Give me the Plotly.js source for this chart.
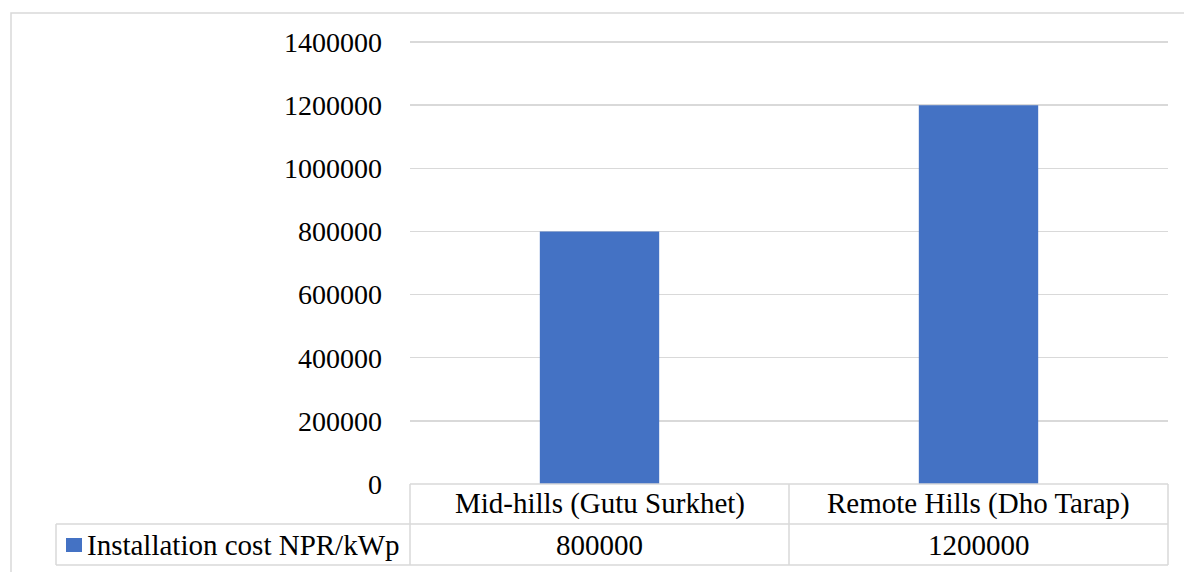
<!DOCTYPE html>
<html>
<head>
<meta charset="utf-8">
<script src="https://cdn.plot.ly/plotly-3.0.1.min.js"></script>
<style>html,body{margin:0;padding:0;background:#fff;}#chart{width:1184px;height:572px;}</style>
</head>
<body>
<div id="chart"></div>
<script>
const categories = ["Mid-hills (Gutu Surkhet)", "Remote Hills (Dho Tarap)"];
const installationCost = [800000, 1200000];
const seriesName = "Installation cost NPR/kWp";
const tickValues = [0, 200000, 400000, 600000, 800000, 1000000, 1200000, 1400000];

const FONT = "Liberation Serif, Times New Roman, serif";
const GRID = "#d9d9d9";
const BLUE = "#4472c4";

const W = 1184, H = 572;
const mL = 410, mR = 16, mT = 38, mB = 88;
const plotH = H - mT - mB;
const plotW = W - mL - mR;
const yMax = tickValues[tickValues.length - 1];
function yp(Y) { return (H - mB - Y) / plotH; }   // pixel-from-top -> paper y
function xp(X) { return (X - mL) / plotW; }       // pixel-from-left -> paper x

const shapes = [];
const annotations = [];
const line = {color: GRID, width: 1.5};
const tableFont = {family: FONT, size: 29, color: "#000"};

// outer chart border
shapes.push({type: "rect", xref: "paper", yref: "paper", x0: xp(11), x1: xp(1195), y0: yp(13), y1: yp(600), line: line});

// top gridline (Plotly drops the one on the range edge)
shapes.push({type: "line", xref: "paper", yref: "y", x0: 0, x1: 1, y0: yMax, y1: yMax, line: line, layer: "below"});

// data table lines
const yTop = yp(484), yMid = yp(524), yBot = yp(565);
shapes.push({type: "line", xref: "paper", yref: "paper", x0: 0, x1: 1, y0: yTop, y1: yTop, line: line});
shapes.push({type: "line", xref: "paper", yref: "paper", x0: xp(56), x1: 1, y0: yMid, y1: yMid, line: line});
shapes.push({type: "line", xref: "paper", yref: "paper", x0: xp(56), x1: 1, y0: yBot, y1: yBot, line: line});
shapes.push({type: "line", xref: "paper", yref: "paper", x0: xp(56), x1: xp(56), y0: yMid, y1: yBot, line: line});
for (let i = 0; i <= categories.length; i++) {
  const xf = i / categories.length;
  shapes.push({type: "line", xref: "paper", yref: "paper", x0: xf, x1: xf, y0: yTop, y1: yBot, line: line});
}
// legend key
shapes.push({type: "rect", xref: "paper", yref: "paper", x0: xp(66), x1: xp(82), y0: yp(552), y1: yp(538), fillcolor: BLUE, line: {width: 0}});
annotations.push({xref: "paper", yref: "paper", x: xp(85), y: yp(545), text: seriesName, showarrow: false, xanchor: "left", yanchor: "middle", font: tableFont});

categories.forEach((c, i) => {
  annotations.push({xref: "x", yref: "paper", x: c, y: yp(504), text: c, showarrow: false, yanchor: "middle", font: tableFont});
  annotations.push({xref: "x", yref: "paper", x: c, y: yp(545), text: String(installationCost[i]), showarrow: false, yanchor: "middle", font: tableFont});
});

const data = [{
  type: "bar",
  x: categories,
  y: installationCost,
  name: seriesName,
  marker: {color: BLUE},
  width: 0.315,
  hoverinfo: "x+y"
}];

// range extends a little above the top tick so the 1400000 line sits at y≈42 px
const layout = {
  width: W, height: H,
  margin: {l: mL, r: mR, t: mT, b: mB, pad: 0},
  paper_bgcolor: "#fff", plot_bgcolor: "#fff",
  showlegend: false,
  font: {family: FONT, size: 28, color: "#000"},
  xaxis: {showticklabels: false, showgrid: false, zeroline: false, showline: false, ticks: ""},
  yaxis: {range: [0, yMax * (446 / 442)], tickvals: tickValues, ticktext: tickValues.map(String), showgrid: true, gridcolor: GRID, gridwidth: 1.5, zeroline: false, showline: false, ticks: "", ticklabelstandoff: 27, tickfont: {family: FONT, size: 28, color: "#000"}},
  shapes: shapes,
  annotations: annotations
};
Plotly.newPlot("chart", data, layout, {displayModeBar: false, staticPlot: true});
</script>
</body>
</html>
